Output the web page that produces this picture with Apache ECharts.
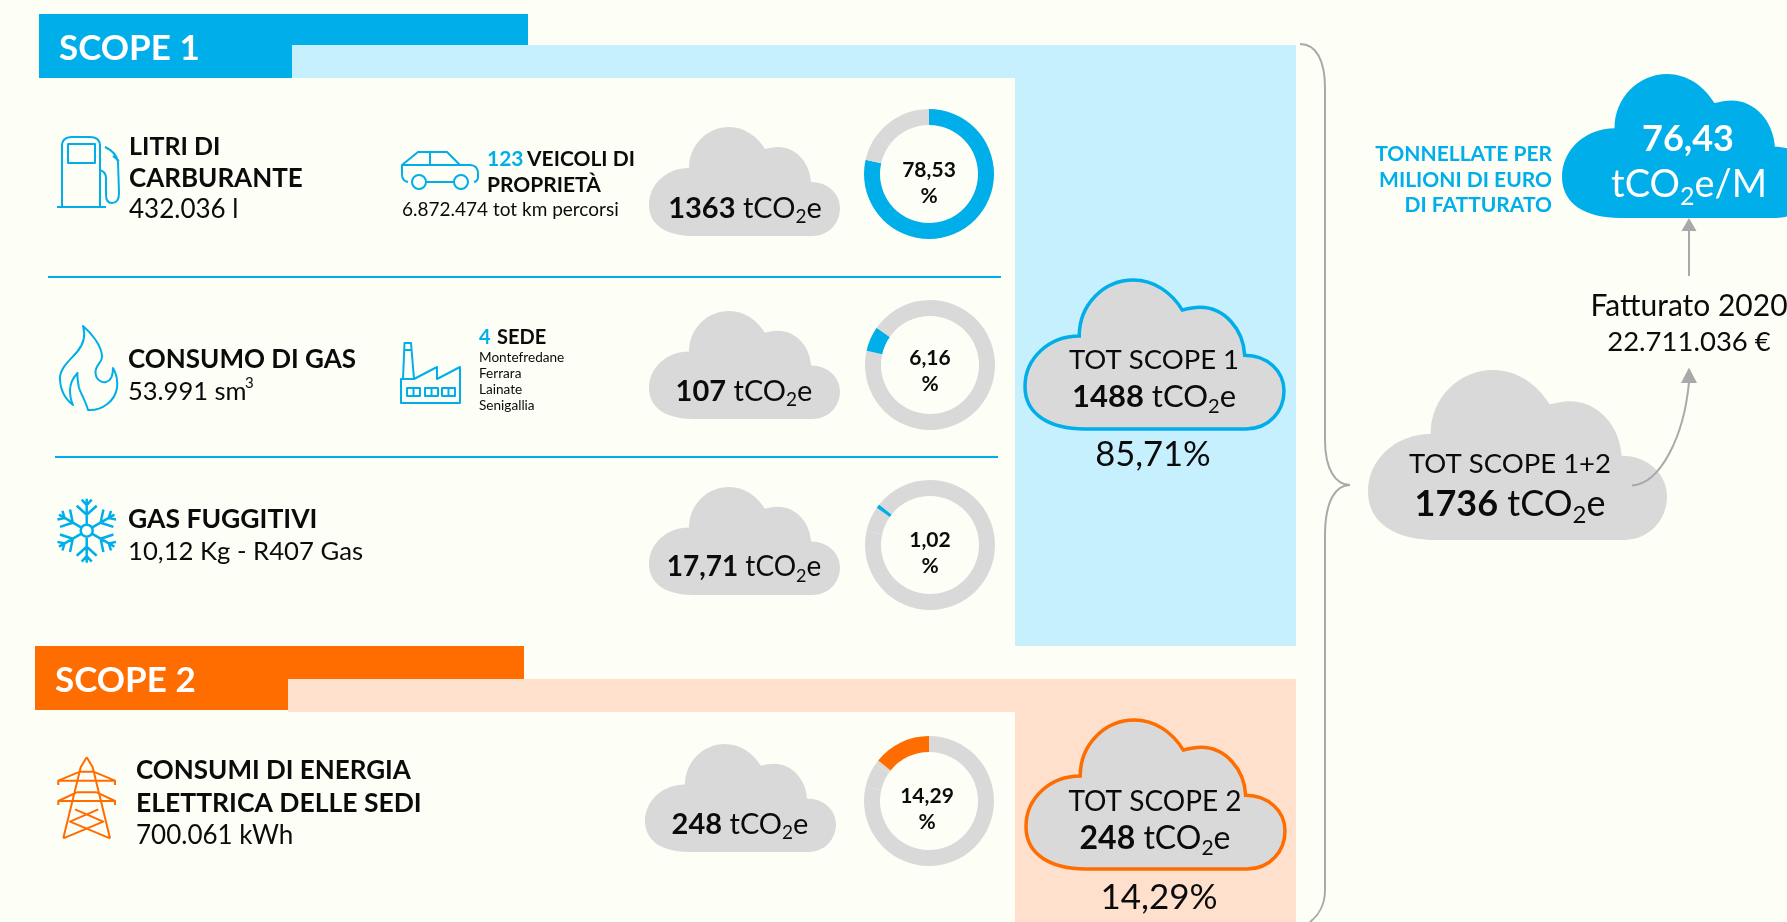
<!DOCTYPE html>
<html>
<head>
<meta charset="utf-8">
<style>
  html, body { margin: 0; padding: 0; background: #fdfff7; overflow: hidden; }
  #main { width: 1787px; height: 922px; }
</style>
<script src="https://cdn.jsdelivr.net/npm/echarts@6/dist/echarts.min.js"></script>
</head>
<body>
<div id="main"></div>
<script>
// chart values
const shareValues = [78.53, 6.16, 1.02, 14.29];
const emissionLabels = ['1363', '107', '17,71', '248'];
const scopeTotals = ['1488', '248'];
const scopeTotalShares = ['85,71%', '14,29%'];
const grandTotal = '1736';
const intensity = '76,43';
const revenueLines = ['Fatturato 2020', '22.711.036 €'];
const intensityCaption = ['TONNELLATE PER', 'MILIONI DI EURO', 'DI FATTURATO'];
const officeNames = ['Montefredane', 'Ferrara', 'Lainate', 'Senigallia'];

const BLUE = '#00aeea', LIGHT_BLUE = '#c7f0ff', ORANGE = '#ff6c00', LIGHT_ORANGE = '#fee0cc';
const GRAY = '#d9d9d9', LINE = '#a9a9a9', INK = '#0b0b0b', BG = '#fdfff7';
const FONT = 'Lato';

// donut centres, one per share
const donutCenters = [[929, 174], [930, 365], [930, 545], [929, 801]];
const donutColors = [BLUE, BLUE, BLUE, ORANGE];

const CLOUD = 'M44 109C19 109 0 99 0 78C0 57 18 41 40 41C40 18 58 0 80 0C95 0 108 9 116 22C120 21 125 20 129 20C147 20 161 36 162 55C179 55 191 67 191 81C191 96 180 109 163 109Z';

function txt(text, x, base, size, o) {
  o = o || {};
  return {
    type: 'text', z: 10, silent: true,
    style: {
      text: text, x: x, y: base - size * 0.27, align: o.align || 'left', verticalAlign: 'middle',
      fill: o.color || INK, fontFamily: FONT, fontSize: size, fontWeight: o.bold ? 700 : 400
    }
  };
}

// "1363 tCO2e" with a lowered 2
function co2(num, x, base, size, o) {
  o = o || {};
  const color = o.color || INK;
  const ssize = Math.round(size * 0.66);
  const parts = (num ? '{n|' + num + '} ' : '') + '{r|tCO}{s|2}{r|e' + (o.tail || '') + '}';
  return {
    type: 'text', z: 10, silent: true,
    style: {
      text: parts, x: x, y: base - size * 0.27, align: 'center', verticalAlign: 'middle',
      fill: color, fontFamily: FONT, fontSize: size,
      rich: {
        n: { fontFamily: FONT, fontSize: o.numSize || size, fontWeight: 700, fill: color },
        r: { fontFamily: FONT, fontSize: size, fontWeight: 400, fill: color },
        s: { fontFamily: FONT, fontSize: ssize, fontWeight: 400, fill: color, padding: [size * 0.62, 0, 0, 0] }
      }
    }
  };
}

function rect(x, y, w, h, fill) {
  return { type: 'rect', z: 0, silent: true, shape: { x: x, y: y, width: w, height: h }, style: { fill: fill } };
}

const bands = [
  rect(39, 14, 489, 64, BLUE),
  rect(292, 45, 1004, 33, LIGHT_BLUE),
  rect(1015, 45, 281, 601, LIGHT_BLUE),
  rect(35, 646, 489, 64, ORANGE),
  rect(288, 679, 1008, 33, LIGHT_ORANGE),
  rect(1015, 679, 281, 243, LIGHT_ORANGE),
  rect(48, 276, 953, 2, BLUE),
  rect(55, 456, 943, 2, BLUE)
];

const labels = [
  txt('SCOPE 1', 59, 58, 35, { bold: true, color: '#fff' }),
  txt('SCOPE 2', 55, 690, 35, { bold: true, color: '#fff' }),
  txt('LITRI DI', 129, 154, 25, { bold: true }),
  txt('CARBURANTE', 129, 186, 26, { bold: true }),
  txt('432.036 l', 129, 217, 26),
  txt('123', 487, 165, 21, { bold: true, color: BLUE }),
  txt('VEICOLI DI', 527, 165, 21, { bold: true }),
  txt('PROPRIETÀ', 487, 191, 21, { bold: true }),
  txt('6.872.474 tot km percorsi', 402, 215, 19),
  txt('CONSUMO DI GAS', 128, 367, 26, { bold: true }),
  txt('53.991 sm', 128, 399, 25.5),
  txt('3', 245, 387, 15),
  txt('4', 479, 343, 20, { bold: true, color: BLUE }),
  txt('SEDE', 497, 343, 20, { bold: true }),
  txt('GAS FUGGITIVI', 128, 527, 26.5, { bold: true }),
  txt('10,12 Kg - R407 Gas', 128, 559, 25.7),
  txt('CONSUMI DI ENERGIA', 136, 778, 26, { bold: true }),
  txt('ELETTRICA DELLE SEDI', 136, 811, 26.5, { bold: true }),
  txt('700.061 kWh', 136, 843, 26),
  txt('TOT SCOPE 1', 1154, 368, 27.5, { align: 'center' }),
  co2(scopeTotals[0], 1154, 405, 31),
  txt(scopeTotalShares[0], 1153, 464, 34.5, { align: 'center' }),
  txt('TOT SCOPE 2', 1155, 810, 28, { align: 'center' }),
  co2(scopeTotals[1], 1155, 847, 32),
  txt(scopeTotalShares[1], 1159, 907, 35, { align: 'center' }),
  txt('TOT SCOPE 1+2', 1510, 472, 27.5, { align: 'center' }),
  co2(grandTotal, 1510, 514, 36),
  txt(intensity, 1688, 149, 36, { bold: true, color: '#fff', align: 'center' }),
  co2('', 1689, 195, 38, { color: '#fff', tail: '/M' }),
  txt(revenueLines[0], 1689, 314, 30, { align: 'center' }),
  txt(revenueLines[1], 1689, 350, 27.5, { align: 'center' })
];

officeNames.forEach(function (name, i) {
  labels.push(txt(name, 479, 361 + i * 16, 13.6));
});
intensityCaption.forEach(function (line, i) {
  labels.push(txt(line, 1552, 160 + i * 25.7, 21, { bold: true, color: BLUE, align: 'right' }));
});
emissionLabels.forEach(function (v, i) {
  const spot = [[745, 216], [744, 399], [744, 575], [740, 832]][i];
  labels.push(co2(v, spot[0], spot[1], [29, 29, 28, 29][i]));
});
shareValues.forEach(function (v, i) {
  const c = donutCenters[i];
  const base = [176, 364, 546, 802][i];
  const dx = i === 3 ? -2 : 0;
  labels.push(txt(v.toFixed(2).replace('.', ','), c[0] + dx, base, 21, { bold: true, align: 'center' }));
  labels.push(txt('%', c[0] + dx, base + 25.5, 21, { bold: true, align: 'center' }));
});

// one ring per share: the same four slices, only the active one is coloured
const donuts = shareValues.map(function (v, k) {
  return {
    type: 'pie', silent: true, animation: false, startAngle: 90, clockwise: true,
    center: donutCenters[k], radius: [49, 65],
    label: { show: false }, labelLine: { show: false }, emphasis: { disabled: true },
    data: shareValues.map(function (s, i) {
      return { value: s, itemStyle: { color: i === k ? donutColors[k] : GRAY } };
    })
  };
});

// snowflake arms
function snowflake(cx, cy) {
  let d = 'M' + (cx + 6) + ' ' + cy + 'a6 6 0 1 0 -12 0a6 6 0 1 0 12 0';
  for (let a = 0; a < 6; a++) {
    const t = (a * 60 + 90) * Math.PI / 180;
    const pt = function (r, off) {
      const x = Math.cos(t) * r - Math.sin(t) * off;
      const y = Math.sin(t) * r + Math.cos(t) * off;
      return (cx + x).toFixed(1) + ' ' + (cy + y).toFixed(1);
    };
    d += 'M' + pt(6, 0) + 'L' + pt(32, 0);
    d += 'M' + pt(25, -10) + 'L' + pt(16, 0) + 'L' + pt(25, 10);
    d += 'M' + pt(31, -5) + 'L' + pt(25.5, 0) + 'L' + pt(31, 5);
  }
  return d;
}

const icons = [
  { d: 'M62 207V146Q62 137 72 137H90Q100 137 100 146V207M57 207H106M68 144H95V163H68ZM105 147Q116 152 118 162L119 193Q119 203 112 203Q106 203 106 195V178Q106 172 100 170M113 156L119 161', c: BLUE, w: 2 },
  { d: 'M408 182Q402 181 402 174V165L418 152H447L460 165H470Q478 165 478 174V177Q478 181 474 182M402 165H460M430 152V165M426 182H454M412 182a7 7 0 1 0 14 0a7 7 0 1 0 -14 0M454 182a7 7 0 1 0 14 0a7 7 0 1 0 -14 0', c: BLUE, w: 2 },
  { d: 'M83 326C90 332 102 345 102 357C102 363 95 365 95.500 373C96 380 102 383 106 382C111 381 113 375 113 368C116 373 118 380 117 388C115 401 102 411 88 410C86 402 82 396 79 388C78 382 77 378 77.500 373C73 378 70 384 70 390C70 396 71 401 73 405C64 398 60 388 60 378C60 368 70 360 77 352C83 345 86 336 83 326Z', c: BLUE, w: 2 },
  { d: 'M401 403V379H414L437 367V379L460 367V403ZM403 379L404.500 343H411L414 379M404 350H411M407 388H420V396H407ZM413.500 388V396M425 388H438V396H425ZM431.500 388V396M442 388H455V396H442ZM448.500 388V396', c: BLUE, w: 2 },
  { d: snowflake(86.7, 530.7), c: BLUE, w: 2.5 },
  { d: 'M86.700 757.300L80.700 767.300L63.300 838.300M86.700 757.300L92.700 767.300L110 838.300M80 771.700H93.400M80 771.700L58.300 780.700H115L93.400 771.700M76.700 792.300H96.700M76.700 792.300L58.300 801H115L96.700 792.300M58.300 780.700V785M115 780.700V785M58.300 801V805M115 801V805M75 809.300L103.300 821.700L63.300 838.300M98.300 809.300L70 821.700L110 838.300', c: ORANGE, w: 2 }
];

const connectors = [
  'M1300 44C1316 44 1325 60 1325 88V440C1325 470 1336 485 1350 485C1336 485 1325 500 1325 536V890C1325 905 1318 916 1310 922',
  'M1689 276V229',
  'M1632 485.500C1660 484 1684 437 1689 382'
];
const arrowHeads = ['M1689 218L1696.500 231H1681.500Z', 'M1689 367.500L1697 383H1681Z'];

// cloud boxes: x, y, w, h, fill, outline
const clouds = [
  [649, 127, 191, 109, GRAY, null],
  [649, 311, 191, 108, GRAY, null],
  [649, 487, 191, 108, GRAY, null],
  [645, 744, 191, 108, GRAY, null],
  [1025, 280, 259, 149, GRAY, BLUE],
  [1026, 720, 259, 149, GRAY, ORANGE],
  [1368, 370, 299, 170, GRAY, null],
  [1562, 74, 251, 144, BLUE, null]
];

const decor = {
  type: 'custom', coordinateSystem: 'none', silent: true, animation: false, z: 1,
  data: [0],
  renderItem: function () {
    const kids = [];
    clouds.forEach(function (c) {
      kids.push({
        type: 'path',
        shape: { pathData: CLOUD, x: c[0], y: c[1], width: c[2], height: c[3], layout: 'cover' },
        style: { fill: c[4], stroke: c[5], lineWidth: c[5] ? 3.5 : 0 }
      });
    });
    connectors.forEach(function (d) {
      kids.push({ type: 'path', z2: 5, shape: { pathData: d }, style: { fill: null, stroke: LINE, lineWidth: 2 } });
    });
    arrowHeads.forEach(function (d) {
      kids.push({ type: 'path', z2: 5, shape: { pathData: d }, style: { fill: LINE, stroke: null } });
    });
    icons.forEach(function (ic) {
      kids.push({ type: 'path', shape: { pathData: ic.d }, style: { fill: null, stroke: ic.c, lineWidth: ic.w, lineJoin: 'round' } });
    });
    return { type: 'group', children: kids };
  }
};

const chart = echarts.init(document.getElementById('main'));
chart.setOption({
  backgroundColor: BG,
  animation: false,
  tooltip: { show: false },
  graphic: { elements: bands.concat(labels) },
  series: [decor].concat(donuts)
});
</script>
</body>
</html>
